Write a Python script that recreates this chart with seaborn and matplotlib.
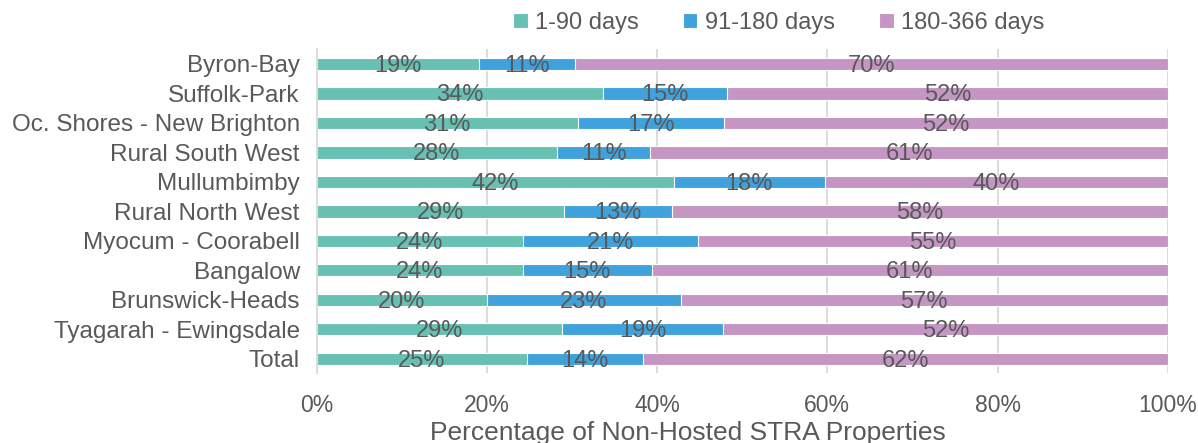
import numpy as np
import pandas as pd
import seaborn as sns
from matplotlib import pyplot as plt

regions = ["Byron-Bay", "Suffolk-Park", "Oc. Shores - New Brighton", "Rural South West",
           "Mullumbimby", "Rural North West", "Myocum - Coorabell", "Bangalow",
           "Brunswick-Heads", "Tyagarah - Ewingsdale", "Total"]
short_stay = [19.1, 33.6, 30.7, 28.3, 42.0, 29.1, 24.2, 24.2, 20.0, 28.8, 24.7]   # 1-90 days
mid_stay = [11.3, 14.6, 17.2, 10.9, 17.7, 12.6, 20.6, 15.2, 22.8, 19.0, 13.7]     # 91-180 days
long_stay = [69.6, 51.8, 52.1, 60.8, 40.3, 58.3, 55.2, 60.6, 57.2, 52.2, 61.6]    # 180-366 days
series_names = ["1-90 days", "91-180 days", "180-366 days"]
colors = ["#67C1B3", "#3FA2DC", "#C596C4"]
grey = "#595959"

sns.set_style("white")
plt.rcParams['font.family'] = ['Liberation Sans', 'DejaVu Sans']

df = pd.DataFrame({"region": regions, "a": short_stay, "b": mid_stay, "c": long_stay})
df["cum_a"] = df["a"]
df["cum_b"] = df["a"] + df["b"]
df["cum_c"] = df["a"] + df["b"] + df["c"]

fig = plt.figure(figsize=(11.98, 4.43), dpi=100)
ax = fig.add_axes([0.2642, 0.157, 0.7106, 0.732])

# stacked look: draw the longest (cumulative) bars first, then overlay shorter ones
for col, name, c in [("cum_c", series_names[2], colors[2]),
                     ("cum_b", series_names[1], colors[1]),
                     ("cum_a", series_names[0], colors[0])]:
    sns.barplot(data=df, x=col, y="region", orient="h", color=c, width=0.42,
                saturation=1, edgecolor="white", linewidth=0.8, label=name, ax=ax)

# data labels at segment centres
for i in range(len(regions)):
    starts = [0, df["cum_a"][i], df["cum_b"][i]]
    vals = [df["a"][i], df["b"][i], df["c"][i]]
    for s, v in zip(starts, vals):
        ax.text(s + v / 2, i + 0.07, f"{round(v)}%", ha="center", va="center",
                fontsize=17, color=grey)

ax.set_xlim(0, 100)
ax.set_ylim(10.5, -0.5)
ax.set_xticks([0, 20, 40, 60, 80, 100])
ax.set_xticklabels([f"{t}%" for t in [0, 20, 40, 60, 80, 100]])
ax.tick_params(axis="x", labelsize=16.5, colors=grey, length=0, pad=15)
ax.tick_params(axis="y", labelsize=17.5, colors=grey, length=0, pad=12)
ax.set_ylabel("")
ax.set_xlabel("Percentage of Non-Hosted STRA Properties", fontsize=19, color=grey)
ax.xaxis.set_label_coords(0.436, -0.147)

ax.grid(axis="x", color="#D9D9D9", linewidth=1.3)
ax.set_axisbelow(True)
for side in ["top", "right", "bottom"]:
    ax.spines[side].set_visible(False)
ax.spines["left"].set_color("#D9D9D9")
ax.spines["left"].set_linewidth(1.3)

handles, labels = ax.get_legend_handles_labels()
order = [labels.index(n) for n in series_names]
leg = fig.legend([handles[k] for k in order], [labels[k] for k in order],
                 loc="center", bbox_to_anchor=(0.65, 0.948), ncol=3, frameon=False,
                 fontsize=17, handlelength=0.6, handleheight=0.6, handletextpad=0.3,
                 columnspacing=1.9)
for t in leg.get_texts():
    t.set_color(grey)
if ax.get_legend():
    ax.get_legend().remove()

fig.savefig("out.png", dpi=100)
